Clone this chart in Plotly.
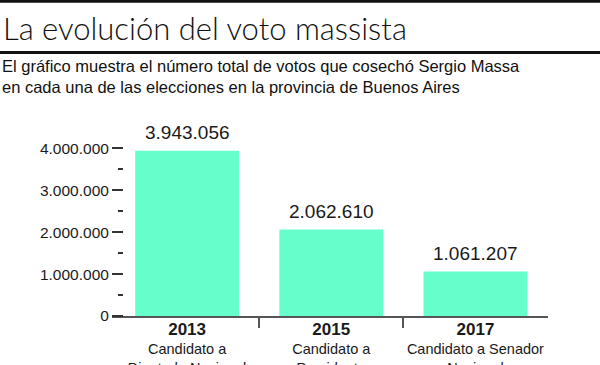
import plotly.graph_objects as go

years = ["2013", "2015", "2017"]
roles = ["Candidato a<br>Diputado Nacional", "Candidato a<br>Presidente", "Candidato a Senador<br>Nacional"]
votes = [3943056, 2062610, 1061207]
vote_labels = ["3.943.056", "2.062.610", "1.061.207"]
y_ticks = [0, 1000000, 2000000, 3000000, 4000000]
y_tick_labels = ["0", "1.000.000", "2.000.000", "3.000.000", "4.000.000"]

title = "La evolución del voto massista"
subtitle = ("El gráfico muestra el número total de votos que cosechó Sergio Massa<br>"
            "en cada una de las elecciones en la provincia de Buenos Aires")

W, H = 600, 365
L, R, T, B = 112, 52, 116, 49
PW = W - L - R
PH = H - T - B

FONT = "Liberation Sans, Arial, sans-serif"
BAR = "#66FFCC"

x = list(range(len(years)))

fig = go.Figure(go.Bar(x=x, y=votes, marker=dict(color=BAR, line=dict(width=0)),
                       width=0.72, hoverinfo="skip"))

for xi, v, lab in zip(x, votes, vote_labels):
    fig.add_annotation(x=xi, y=v, text=lab, showarrow=False, yanchor="bottom",
                       yshift=6, font=dict(family=FONT, size=19, color="#1a1a1a"))

ticktext = [f"<b><span style='font-size:17px'>{y}</span></b><br>{r}" for y, r in zip(years, roles)]

px_per_unit = 144
fig.update_xaxes(
    range=[-(187 - L) / px_per_unit, 2 + (548 - 475.5) / px_per_unit],
    tickmode="array", tickvals=x, ticktext=ticktext, ticks="",
    showline=True, linecolor="#555", linewidth=1.5, showgrid=False, zeroline=False,
    tickfont=dict(family=FONT, size=14.5, color="#1a1a1a"), automargin=False,
    minor=dict(tickmode="array", tickvals=[0.5, 1.5], ticks="outside", ticklen=10,
               tickcolor="#555", tickwidth=1.5, showgrid=False),
    fixedrange=True,
)
top_val = (316 - T) / ((316 - 148.3) / 4000000)
fig.update_yaxes(
    range=[0, top_val], tickmode="array", tickvals=y_ticks, ticktext=y_tick_labels,
    ticks="outside", ticklen=11, tickwidth=1.5, tickcolor="#333",
    anchor="free", position=(123 - L) / PW, automargin=False,
    showline=False, showgrid=False, zeroline=False,
    tickfont=dict(family=FONT, size=15.5, color="#1a1a1a"),
    minor=dict(tickmode="array", tickvals=[500000, 1500000, 2500000, 3500000],
               ticks="outside", ticklen=5, tickwidth=1.5, tickcolor="#333", showgrid=False),
    fixedrange=True,
)

def px_x(p):
    return (p - L) / PW

def px_y(p):
    return 1 - (p - T) / PH

# top rule and rule under title
fig.add_shape(type="rect", xref="paper", yref="paper", x0=px_x(0), x1=px_x(600),
              y0=px_y(2.7), y1=px_y(0), fillcolor="#111", line=dict(width=0))
fig.add_shape(type="rect", xref="paper", yref="paper", x0=px_x(0), x1=px_x(600),
              y0=px_y(54), y1=px_y(51), fillcolor="#111", line=dict(width=0))

fig.add_annotation(xref="paper", yref="paper", x=px_x(1), y=px_y(28), xanchor="left",
                   yanchor="middle", text=title, showarrow=False,
                   font=dict(family="Lato, Roboto, Liberation Sans, sans-serif", size=31,
                             weight=300, color="#111"))
fig.add_annotation(xref="paper", yref="paper", x=px_x(0), y=px_y(77), xanchor="left",
                   yanchor="middle", text=subtitle, showarrow=False, align="left",
                   font=dict(family=FONT, size=16.5, color="#111"))

fig.update_layout(
    width=W, height=H, margin=dict(l=L, r=R, t=T, b=B, pad=0, autoexpand=False),
    paper_bgcolor="white", plot_bgcolor="white", showlegend=False,
    bargap=0.28,
)

fig.write_html("out.html", config={"displayModeBar": False},
               post_script="document.body.style.margin='0';document.body.style.overflow='hidden';")
